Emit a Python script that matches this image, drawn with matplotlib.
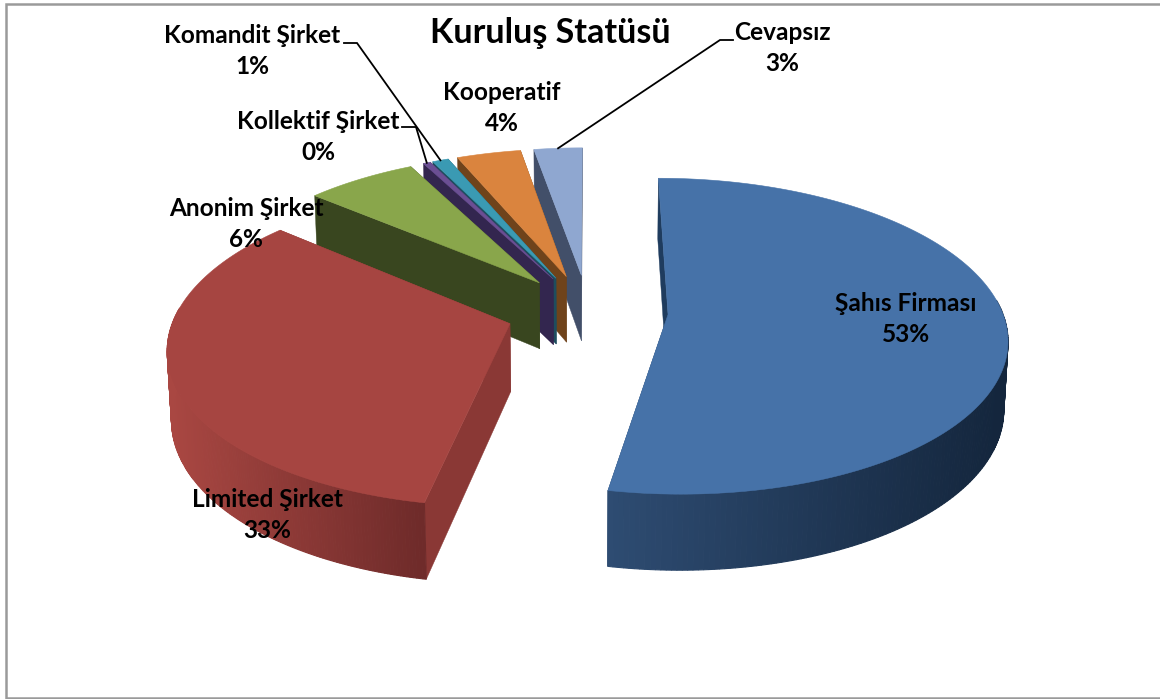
import numpy as np
import matplotlib
matplotlib.use("Agg")
import matplotlib.pyplot as plt
from matplotlib.colors import to_rgb
from matplotlib.patches import Polygon, Rectangle

# dilimler saat yonunde, tepeden baslayarak
kategoriler = ["Şahıs Firması", "Limited Şirket", "Anonim Şirket", "Kollektif Şirket",
               "Komandit Şirket", "Kooperatif", "Cevapsız"]
degerler = [53.0, 33.2, 6.2, 0.4, 0.9, 3.6, 2.7]

ust_renk = ["#4672a8", "#a64541", "#89a64b", "#6b4f94", "#3a9ab3", "#da843e", "#8fa7d0"]
kesit_renk = ["#1f3c5e", "#8a3835", "#39461f", "#33264f", "#1e4d5e", "#6f431b", "#424f69"]
duvar_sol = ["#2e4c72", "#a94742", "#4c5e2a", "#3d2e5e", "#25586a", "#7f4d20", "#4d5c78"]
duvar_sag = ["#14263d", "#6f2b2a", "#39461f", "#33264f", "#1e4d5e", "#6f431b", "#424f69"]

# etiket yerlesimi: (x, y) piksel
etiket_yer = [(906, 319), (267, 515), (246, 224), (318, 137), (252, 51), (502, 108), (782, 48)]
cizgi_dirsek = {3: [(402, 127), (416, 127)], 4: [(344, 43), (357, 43)], 6: [(733, 40), (720, 40)]}

# izdusum ayarlari
X0, Y0 = 588, 311
A, B, P = 334, 154, 0.137
H, Q = 68, 0.01
PATLAMA = [0.24, 0.245, 0.24, 0.24, 0.24, 0.24, 0.24]
N = 240


def izdusum(x, y, z):
    w = 1 + P * y + Q * z
    return X0 + A * x / w, Y0 + (-B * y + H * z) / w


def dilim_kose(i, baslangic, bitis, n=N):
    orta = (baslangic + bitis) / 2
    ox, oy = PATLAMA[i] * np.sin(orta), PATLAMA[i] * np.cos(orta)
    t = np.linspace(baslangic, bitis, n)
    return ox, oy, ox + np.sin(t), oy + np.cos(t), t


def dilim_ciz(ax, i, baslangic, bitis):
    ox, oy, rx, ry, t = dilim_kose(i, baslangic, bitis)
    ust = [izdusum(ox, oy, 0)] + [izdusum(a, b, 0) for a, b in zip(rx, ry)]
    # kesit yuzeyleri
    for a, b in [(rx[0], ry[0]), (rx[-1], ry[-1])]:
        yuz = [izdusum(ox, oy, 0), izdusum(a, b, 0), izdusum(a, b, 1), izdusum(ox, oy, 1)]
        ax.add_patch(Polygon(yuz, closed=True, fc=kesit_renk[i], ec=kesit_renk[i], lw=0.3))
    # dis duvar, renk gecisli; sadece one bakan kisim
    c1, c2 = np.array(to_rgb(duvar_sol[i])), np.array(to_rgb(duvar_sag[i]))
    for k in range(len(rx) - 1):
        if np.cos(t[k]) > 0.1:
            continue
        px = izdusum(rx[k], ry[k], 0)[0]
        oran = np.clip((px - 170) / 250, 0, 1) if i == 1 else np.clip((px - 610) / 390, 0, 1)
        renk = c1 + (c2 - c1) * oran
        yuz = [izdusum(rx[k], ry[k], 0), izdusum(rx[k + 1], ry[k + 1], 0),
               izdusum(rx[k + 1], ry[k + 1], 1), izdusum(rx[k], ry[k], 1)]
        ax.add_patch(Polygon(yuz, closed=True, fc=renk, ec=renk, lw=0.8))
    ax.add_patch(Polygon(ust, closed=True, fc=ust_renk[i], ec=ust_renk[i], lw=0.4))


fig = plt.figure(figsize=(11.6, 6.99), dpi=100)
ax = fig.add_axes([0, 0, 1, 1])
ax.set_xlim(0, 1160)
ax.set_ylim(699, 0)
ax.axis("off")
plt.rcParams["font.family"] = ["Lato", "DejaVu Sans"]

ax.add_patch(Rectangle((6, 4), 1160, 694, fc="white", ec="#9a9a9a", lw=1.8))

oranlar = np.array(degerler) / sum(degerler) * 2 * np.pi
bitisler = np.cumsum(oranlar)
baslar = bitisler - oranlar

# arkadan one dogru boyama
for i in [6, 5, 4, 3, 2, 0, 1]:
    dilim_ciz(ax, i, baslar[i], bitisler[i])

for i, dirsek in cizgi_dirsek.items():
    _, _, rx, ry, _ = dilim_kose(i, baslar[i], bitisler[i])
    hedef = izdusum(rx[N // 2], ry[N // 2], 0)
    xs = [p[0] for p in dirsek] + [hedef[0]]
    ys = [p[1] for p in dirsek] + [hedef[1]]
    ax.plot(xs, ys, color="black", lw=1.3, solid_joinstyle="miter", zorder=5)

for ad, d, (x, y) in zip(kategoriler, degerler, etiket_yer):
    ax.text(x, y, f"{ad}\n{round(d)}%", ha="center", va="center", fontsize=17.6,
            fontweight="bold", color="black", linespacing=1.46, zorder=6)

ax.text(550, 33, "Kuruluş Statüsü", ha="center", va="center", fontsize=24.5,
        fontweight="bold", color="black", zorder=6)

fig.savefig("out.png", dpi=100)
